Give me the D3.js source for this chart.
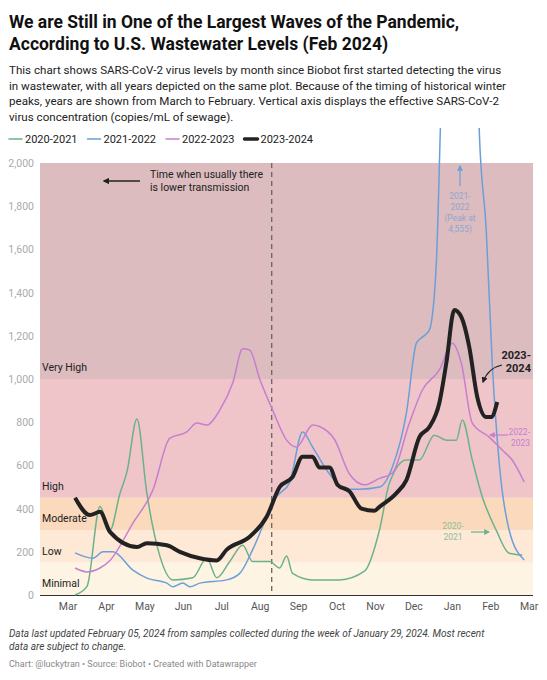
<!DOCTYPE html>
<html><head><meta charset="utf-8">
<script src="https://cdn.jsdelivr.net/npm/d3@7"></script>
<style>body{margin:0;background:#fff;font-family:Roboto,sans-serif}</style>
</head><body><svg id="c" width="547" height="680"></svg>
<script>
const monthLabels=["Mar","Apr","May","Jun","Jul","Aug","Sep","Oct","Nov","Dec","Jan","Feb","Mar"];
const yTicks=[0,200,400,600,800,1000,1200,1400,1600,1800,2000];
const bands=[{name:"Minimal",lo:0,hi:150,color:"#fdf4e3"},{name:"Low",lo:150,hi:300,color:"#fde9d6"},{name:"Moderate",lo:300,hi:450,color:"#fbd9bd"},{name:"High",lo:450,hi:1000,color:"#efc5ca"},{name:"Very High",lo:1000,hi:2000,color:"#dcbcbf"}];
// x values in pixel-estimated positions converted to month index below
const s2020=[[75,0],[87,40],[100,410],[110,300],[120,470],[127,570],[137,815],[147,470],[160,180],[173,70],[193,80],[207,170],[217,80],[230,155],[243,230],[253,155],[270,155],[280,125],[287,180],[293,100],[313,70],[340,70],[365,110],[380,300],[390,518],[407,625],[420,625],[435,740],[447,717],[457,717],[463,810],[473,625],[483,455],[497,300],[510,193],[523,185]];
const s2021=[[75,195],[93,170],[103,200],[113,200],[133,115],[147,78],[167,55],[173,38],[183,55],[190,38],[200,55],[227,70],[240,100],[253,210],[267,360],[277,455],[290,520],[303,755],[313,685],[330,560],[345,490],[360,490],[380,500],[393,593],[407,842],[417,1166],[423,1194],[430,1226],[437,1537],[441,2153],[450,3800],[463,4555],[474,3800],[480,2150],[487,1690],[493,1074],[500,611],[510,300],[525,162]];
const s2022=[[75,125],[87,107],[100,125],[110,160],[133,333],[153,486],[170,726],[187,755],[197,796],[207,787],[220,856],[233,981],[243,1140],[250,1134],[260,1000],[273,856],[287,717],[297,685],[313,787],[320,780],[335,720],[350,560],[365,510],[380,540],[393,565],[410,796],[423,949],[440,1042],[453,1166],[462,1074],[473,796],[490,731],[503,671],[513,625],[525,523]];
const s2023=[[75,450],[90,370],[100,385],[110,292],[137,222],[147,240],[167,230],[180,200],[200,170],[217,160],[227,210],[250,270],[267,362],[280,500],[293,547],[303,640],[313,640],[320,590],[330,590],[338,510],[350,480],[362,400],[375,390],[380,408],[397,472],[407,532],[420,731],[430,778],[440,889],[447,1074],[455,1319],[462,1287],[470,1148],[478,917],[487,824],[492,824],[498,894]];
const toT=p=>p.map(([x,v])=>({t:(x-68)/38.5,v}));
const series=[{name:"2020-2021",color:"#6bb28a",w:1.5,d:toT(s2020)},{name:"2021-2022",color:"#6a9fd8",w:1.5,d:toT(s2021)},{name:"2022-2023",color:"#c77ed0",w:1.5,d:toT(s2022)},{name:"2023-2024",color:"#222",w:4,d:toT(s2023)}];

const svg=d3.select("#c");
const x=d3.scaleLinear().domain([-0.73,12.1]).range([40,533]);
const y=d3.scaleLinear().domain([0,2000]).range([595,163]);
// title
const t=svg.append("g");
t.append("text").attr("x",9).attr("y",28).text("We are Still in One of the Largest Waves of the Pandemic,").attr("font-size",17.5).attr("font-weight",700).attr("fill","#111");
t.append("text").attr("x",9).attr("y",50).text("According to U.S. Wastewater Levels (Feb 2024)").attr("font-size",17.5).attr("font-weight",700).attr("fill","#111");
["This chart shows SARS-CoV-2 virus levels by month since Biobot first started detecting the virus","in wastewater, with all years depicted on the same plot. Because of the timing of historical winter","peaks, years are shown from March to February. Vertical axis displays the effective SARS-CoV-2","virus concentration (copies/mL of sewage)."].forEach((s,i)=>t.append("text").attr("x",9).attr("y",74+i*15.5).text(s).attr("font-size",11.6).attr("fill","#222"));
// legend
let lx=9;
series.forEach(s=>{const g=svg.append("g");g.append("line").attr("x1",lx).attr("x2",lx+13).attr("y1",139).attr("y2",139).attr("stroke",s.color).attr("stroke-width",s.w==4?3.5:1.5).attr("stroke-linecap","round");
 const tx=g.append("text").attr("x",lx+16).attr("y",143).text(s.name).attr("font-size",11).attr("fill","#222");lx+=16+tx.node().getComputedTextLength()+10;});
// bands
svg.selectAll("rect.b").data(bands).join("rect").attr("x",x.range()[0]).attr("width",x.range()[1]-x.range()[0]).attr("y",d=>y(d.hi)).attr("height",d=>y(d.lo)-y(d.hi)).attr("fill",d=>d.color);
svg.selectAll("text.b").data(bands).join("text").attr("x",42).attr("y",d=>y(d.lo)-8).text(d=>d.name).attr("font-size",10.5).attr("fill","#222");
// y axis
svg.selectAll("text.y").data(yTicks).join("text").attr("x",34).attr("y",d=>y(d)+4).attr("text-anchor","end").text(d3.format(",")).attr("font-size",10.5).attr("fill","#aaa");
svg.append("line").attr("x1",40).attr("x2",533).attr("y1",595.5).attr("y2",595.5).attr("stroke","#333");
svg.selectAll("text.x").data(monthLabels).join("text").attr("x",(d,i)=>x(i)).attr("y",610).attr("text-anchor","middle").text(d=>d).attr("font-size",10.5).attr("fill","#555");
// dashed
svg.append("line").attr("x1",x(5.3)).attr("x2",x(5.3)).attr("y1",163).attr("y2",595).attr("stroke","#666").attr("stroke-width",1.3).attr("stroke-dasharray","5,4");
// lines
svg.append("clipPath").attr("id","cp").append("rect").attr("x",40).attr("y",128).attr("width",493).attr("height",470);
const line=d3.line().x(d=>x(d.t)).y(d=>y(d.v)).curve(d3.curveMonotoneX);
svg.append("g").attr("clip-path","url(#cp)").selectAll("path").data(series).join("path").attr("d",d=>line(d.d)).attr("fill","none").attr("stroke",d=>d.color).attr("stroke-width",d=>d.w).attr("stroke-linejoin","round");
// annotations
const defs=svg.append("defs");
[["a1","#222"],["a2","#6a9fd8"],["a3","#c77ed0"],["a4","#6bb28a"]].forEach(([id,c])=>defs.append("marker").attr("id",id).attr("viewBox","0 0 10 10").attr("refX",8).attr("refY",5).attr("markerWidth",5).attr("markerHeight",5).attr("orient","auto-start-reverse").append("path").attr("d","M0,0L10,5L0,10z").attr("fill",c));
svg.append("text").attr("x",150).attr("y",178).text("Time when usually there").attr("font-size",10.5).attr("fill","#222");
svg.append("text").attr("x",150).attr("y",191).text("is lower transmission").attr("font-size",10.5).attr("fill","#222");
svg.append("line").attr("x1",140).attr("x2",104).attr("y1",181).attr("y2",181).attr("stroke","#222").attr("stroke-width",1.3).attr("marker-end","url(#a1)");
svg.append("line").attr("x1",460).attr("x2",460).attr("y1",186).attr("y2",166).attr("stroke","#6a9fd8").attr("stroke-width",1.2).attr("marker-end","url(#a2)");
["2021-","2022","(Peak at","4,555)"].forEach((s,i)=>svg.append("text").attr("x",460).attr("y",199+i*11).attr("text-anchor","middle").text(s).attr("font-size",8.5).attr("fill","#8fa6cf"));
["2023-","2024"].forEach((s,i)=>svg.append("text").attr("x",531).attr("y",359+i*13).attr("text-anchor","end").text(s).attr("font-size",11).attr("font-weight",700).attr("fill","#222"));
svg.append("path").attr("d","M502,365 Q488,368 483,382").attr("fill","none").attr("stroke","#222").attr("stroke-width",1.2).attr("marker-end","url(#a1)");
["2022-","2023"].forEach((s,i)=>svg.append("text").attr("x",530).attr("y",435+i*11).attr("text-anchor","end").text(s).attr("font-size",8.5).attr("fill","#c77ed0"));
svg.append("line").attr("x1",508).attr("x2",490).attr("y1",435).attr("y2",435).attr("stroke","#c77ed0").attr("stroke-width",1.2).attr("marker-end","url(#a3)");
["2020-","2021"].forEach((s,i)=>svg.append("text").attr("x",453).attr("y",529+i*11).attr("text-anchor","middle").text(s).attr("font-size",8.5).attr("fill","#8bbf9c"));
svg.append("line").attr("x1",471).attr("x2",489).attr("y1",532).attr("y2",532).attr("stroke","#6bb28a").attr("stroke-width",1.2).attr("marker-end","url(#a4)");
// footer
svg.append("text").attr("x",9).attr("y",637).text("Data last updated February 05, 2024 from samples collected during the week of January 29, 2024. Most recent").attr("font-size",10).attr("font-style","italic").attr("fill","#444");
svg.append("text").attr("x",9).attr("y",650).text("data are subject to change.").attr("font-size",10).attr("font-style","italic").attr("fill","#444");
svg.append("text").attr("x",9).attr("y",667).text("Chart: @luckytran • Source: Biobot • Created with Datawrapper").attr("font-size",9).attr("fill","#888");
</script></body></html>
